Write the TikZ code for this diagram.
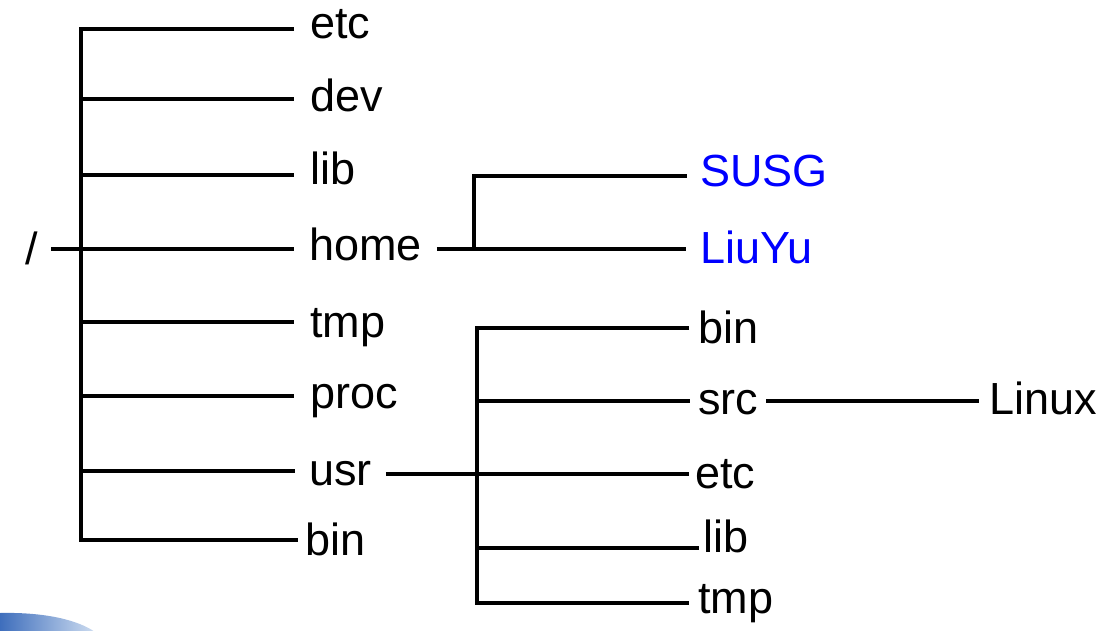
\documentclass[tikz,border=0pt]{standalone}
\usepackage{fontspec}
\setmainfont{Liberation Sans}
\definecolor{dirblue}{RGB}{0,0,255}
\definecolor{blobtop}{RGB}{205,220,240}
\definecolor{blobbot}{RGB}{62,110,188}
\tikzset{
  lbl/.style={font=\fontsize{45}{54}\selectfont, inner ysep=0pt, inner xsep=16pt,
    text height=34pt, text depth=10pt, anchor=west},
  xgap/.style={inner xsep=#1},
  bo/.code={\pgfmathsetlengthmacro\bh{22pt+#1pt}\pgfmathsetlengthmacro\bd{22pt-#1pt}%
    \pgfkeysalso{text height/.expanded=\bh, text depth/.expanded=\bd}},
  conn/.style={line width=3.1pt, draw=black},
}
\begin{document}
\begin{tikzpicture}[x=1pt,y=-1pt]
\useasboundingbox (0,0) rectangle (1111,631);
% decorative blob bottom-left
\begin{scope}
  \clip (0,0) rectangle (1111,631);
  \shade[shading angle=60, left color=blobbot, right color=blobtop]
    (0,613) .. controls (45,612) and (78,620) .. (95,632) -- (0,632) -- cycle;
\end{scope}
% coordinates of junctions
\coordinate (tr) at (81,0);
\coordinate (hj) at (474,0);
\coordinate (uj) at (477,0);
% root
\node[lbl, anchor=east, xgap=13pt, bo=16] (root) at (51,249) {/};
% first level
\node[lbl, bo=10] (etc)  at (294,29)  {etc};
\node[lbl, bo=13] (dev)  at (294,99)  {dev};
\node[lbl, bo=10] (lib)  at (294,175) {lib};
\node[lbl, bo=11, xgap=15pt] (home) at (294,249) {home};
\node[lbl, bo=15] (tmp)  at (294,322) {tmp};
\node[lbl, bo=12] (proc) at (294,396) {proc};
\node[lbl, bo=14, xgap=14pt] (usr)  at (295,471) {usr};
\node[lbl, bo=15, xgap=7pt]  (bin)  at (298,540) {bin};
% home subtree
\node[lbl, bo=11, text=dirblue, xgap=13pt] (susg)  at (687,176) {SUSG};
\node[lbl, bo=14, text=dirblue, xgap=14pt] (liuyu) at (686,249) {LiuYu};
% usr subtree
\node[lbl, bo=15, xgap=9pt]  (ubin) at (689,328) {bin};
\node[lbl, bo=13, xgap=8pt]  (usrc) at (690,401) {src};
\node[lbl, bo=14, xgap=6pt]  (uetc) at (689,474) {etc};
\node[lbl, bo=4,  xgap=4pt]  (ulib) at (699,548) {lib};
\node[lbl, bo=10, xgap=9pt]  (utmp) at (689,603) {tmp};
\node[lbl, bo=13, xgap=10pt] (linux) at (979,401) {Linux};
% main trunk
\draw[conn] (etc.west) -- (tr |- etc.west) -- (tr |- bin.west) -- (bin.west);
\draw[conn] (tr |- dev.west) -- (dev.west);
\draw[conn] (tr |- lib.west) -- (lib.west);
\draw[conn] (root.east) -- (home.west);
\draw[conn] (tr |- tmp.west) -- (tmp.west);
\draw[conn] (tr |- proc.west) -- (proc.west);
\draw[conn] (tr |- usr.west) -- (usr.west);
% home subtree
\draw[conn] (home.east) -- (liuyu.west);
\draw[conn] (hj |- home.east) -- (hj |- susg.west) -- (susg.west);
% usr subtree
\draw[conn] (ubin.west) -- (uj |- ubin.west) -- (uj |- utmp.west) -- (utmp.west);
\draw[conn] (uj |- usrc.west) -- (usrc.west);
\draw[conn] (usr.east |- uetc.west) -- (uetc.west);
\draw[conn] (uj |- ulib.west) -- (ulib.west);
\draw[conn] (usrc.east) -- (linux.west);
\end{tikzpicture}
\end{document}
